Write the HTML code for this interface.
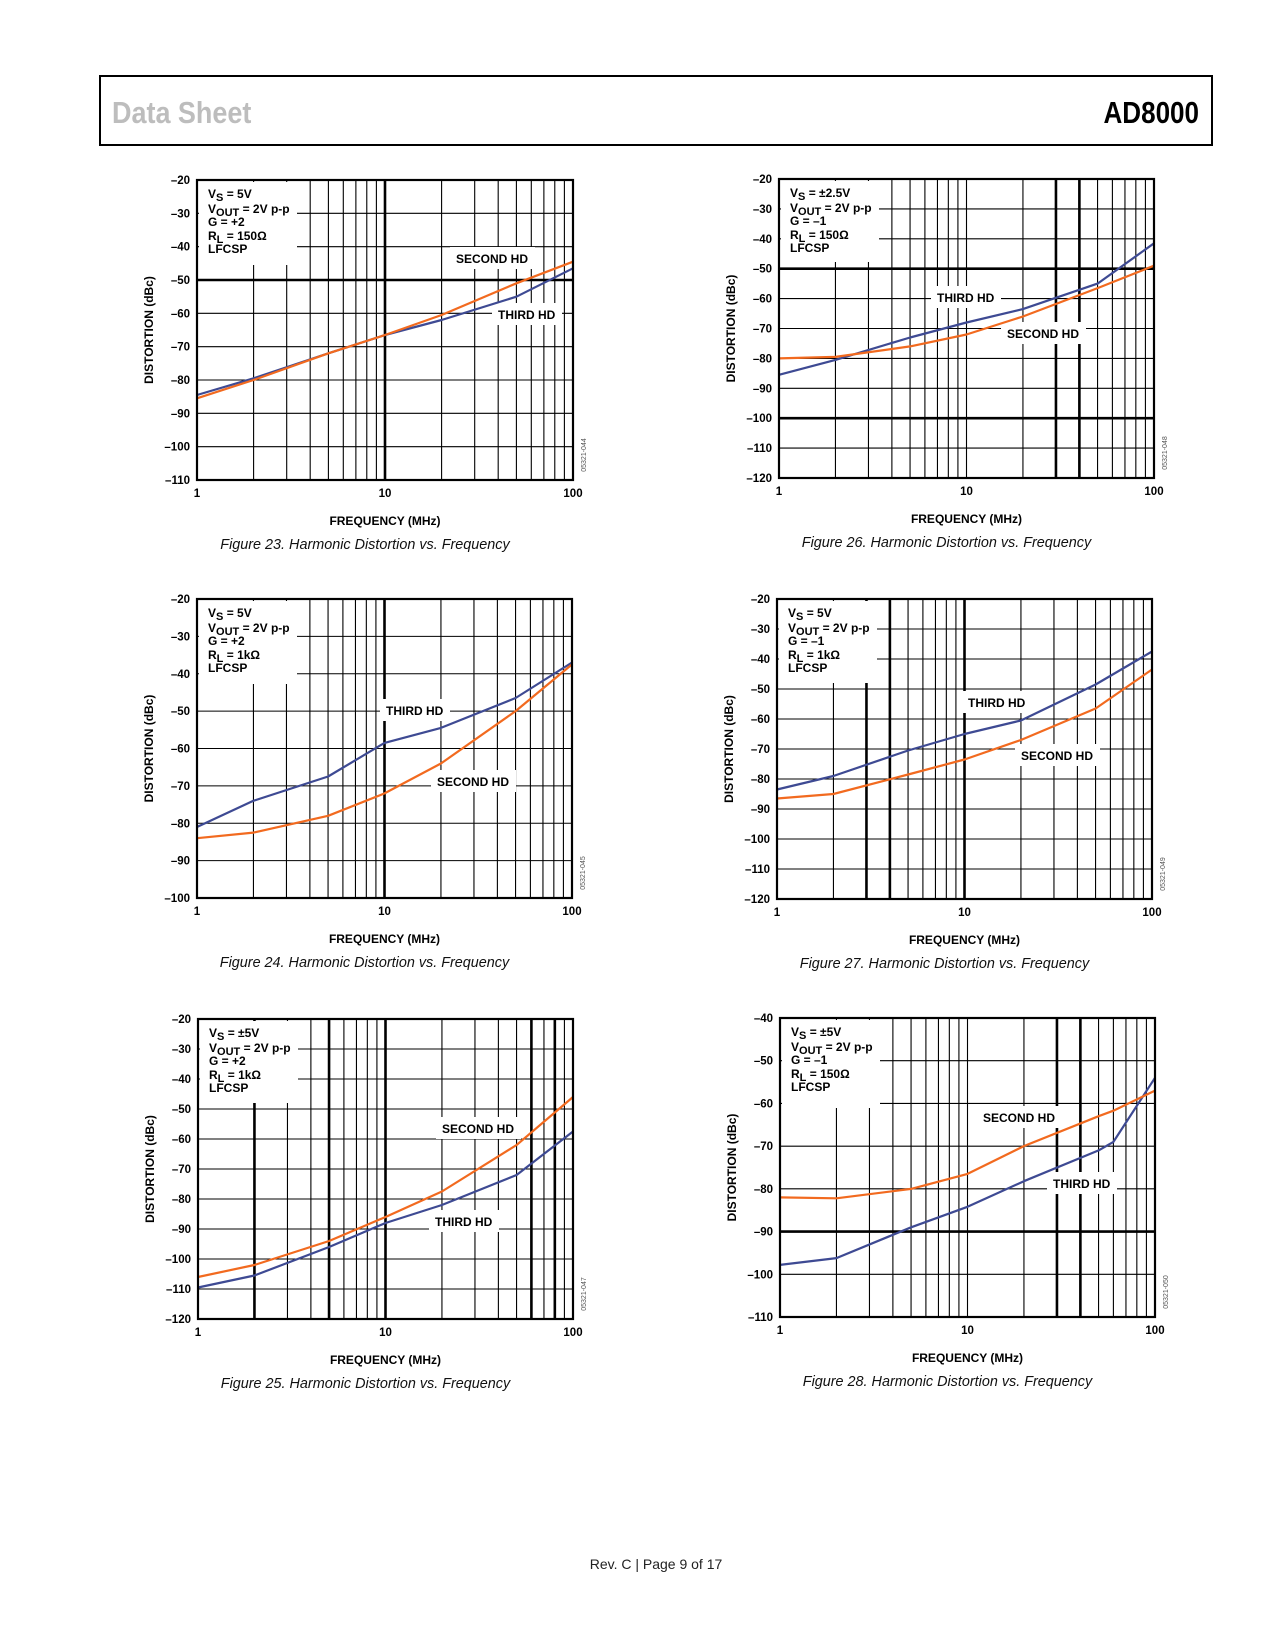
<!DOCTYPE html>
<html><head><meta charset="utf-8"><title>AD8000 Data Sheet page 9</title>
<style>
html,body{margin:0;padding:0;background:#fff;}
body{width:1275px;height:1650px;position:relative;overflow:hidden;font-family:"Liberation Sans",Arial,sans-serif;}
svg{position:absolute;left:0;top:0;}
</style></head>
<body>
<svg id="page" width="1275" height="1650" viewBox="0 0 1275 1650" xmlns="http://www.w3.org/2000/svg">
  <rect x="100" y="76" width="1112" height="69" fill="none" stroke="#000" stroke-width="2"/>
  <text x="112" y="123" font-family="Liberation Sans Narrow, Liberation Sans, sans-serif" font-weight="bold" font-size="31" fill="#bdbdbd" transform="translate(112 0) scale(0.87 1) translate(-112 0)">Data Sheet</text>
  <text x="1199" y="123" text-anchor="end" font-family="Liberation Sans Narrow, Liberation Sans, sans-serif" font-weight="bold" font-size="31" fill="#000" transform="translate(1199 0) scale(0.84 1) translate(-1199 0)">AD8000</text>
  <text x="656" y="1569" text-anchor="middle" font-size="14" fill="#222">Rev. C | Page 9 of 17</text>
  <g id="charts"></g>
</svg>
<script>
// ---- Figure 23 data ----
const f23Freq = [1, 2, 5, 10, 20, 50, 100];
const f23Second = [-85.5, -80, -72, -66.5, -60.5, -51, -44.5];
const f23Third = [-84.5, -79.5, -72, -66.5, -62, -55, -46.5];
const f23YTicks = [-20, -30, -40, -50, -60, -70, -80, -90, -100, -110];
// ---- Figure 24 data ----
const f24Freq = [1, 2, 5, 10, 20, 50, 100];
const f24Second = [-84, -82.5, -78, -72, -64, -50, -37.5];
const f24Third = [-81, -74, -67.5, -58.5, -54.5, -46.5, -37];
const f24YTicks = [-20, -30, -40, -50, -60, -70, -80, -90, -100];
// ---- Figure 25 data ----
const f25Freq = [1, 2, 5, 10, 20, 50, 100];
const f25Second = [-106, -102, -94, -86, -77.5, -62, -46];
const f25Third = [-109.5, -105.5, -96, -88, -82, -72, -57.5];
const f25YTicks = [-20, -30, -40, -50, -60, -70, -80, -90, -100, -110, -120];
// ---- Figure 26 data ----
const f26Freq = [1, 2, 5, 10, 20, 50, 100];
const f26Second = [-80, -79.5, -76, -72, -66, -56.5, -49];
const f26Third = [-85.5, -80.5, -73, -68, -63.5, -55, -41.5];
const f26YTicks = [-20, -30, -40, -50, -60, -70, -80, -90, -100, -110, -120];
// ---- Figure 27 data ----
const f27Freq = [1, 2, 5, 10, 20, 50, 100];
const f27Second = [-86.5, -85, -78.5, -73.5, -67, -56.5, -43.5];
const f27Third = [-83.5, -79, -70.5, -65, -60.5, -48.5, -37.5];
const f27YTicks = [-20, -30, -40, -50, -60, -70, -80, -90, -100, -110, -120];
// ---- Figure 28 data ----
const f28Freq = [1, 2, 5, 10, 20, 50, 60, 100];
const f28Second = [-82, -82.2, -80, -76.5, -70, -63, -61.7, -57];
const f28Third = [-97.8, -96.2, -89, -84.2, -78.2, -71, -69, -54];
const f28YTicks = [-40, -50, -60, -70, -80, -90, -100, -110];
const xTickLabels = ['1', '10', '100'];

const NS = 'http://www.w3.org/2000/svg';
const root = document.getElementById('charts');
function mk(tag, attrs, parent) {
  const e = document.createElementNS(NS, tag);
  for (const k in attrs) e.setAttribute(k, attrs[k]);
  (parent || root).appendChild(e);
  return e;
}

const charts = [
  {id:23, L:197, T:180, R:573, B:480, freq:f23Freq, second:f23Second, third:f23Third, ticks:f23YTicks,
   thickV:[10], thickH:[-50], ann:['5V','+2','150Ω'], annH:83,
   lab2:[456,263], lab3:[498,319], code:'05321-044'},
  {id:24, L:197, T:599, R:572, B:898, freq:f24Freq, second:f24Second, third:f24Third, ticks:f24YTicks,
   thickV:[10], thickH:[], ann:['5V','+2','1kΩ'], annH:83,
   lab2:[437,786], lab3:[386,715], code:'05321-045'},
  {id:25, L:198, T:1019, R:573, B:1319, freq:f25Freq, second:f25Second, third:f25Third, ticks:f25YTicks,
   thickV:[2,5,10,60,80], thickH:[], ann:['±5V','+2','1kΩ'], annH:82,
   lab2:[442,1133], lab3:[435,1226], code:'05321-047'},
  {id:26, L:779, T:179, R:1154, B:478, freq:f26Freq, second:f26Second, third:f26Third, ticks:f26YTicks,
   thickV:[30,40], thickH:[-50,-100], ann:['±2.5V','–1','150Ω'], annH:81,
   lab2:[1007,338], lab3:[937,302], code:'05321-048'},
  {id:27, L:777, T:599, R:1152, B:899, freq:f27Freq, second:f27Second, third:f27Third, ticks:f27YTicks,
   thickV:[3,4,10], thickH:[], ann:['5V','–1','1kΩ'], annH:82,
   lab2:[1021,760], lab3:[968,707], code:'05321-049'},
  {id:28, L:780, T:1018, R:1155, B:1317, freq:f28Freq, second:f28Second, third:f28Third, ticks:f28YTicks,
   thickV:[30,40], thickH:[-90], ann:['±5V','–1','150Ω'], annH:88,
   lab2:[983,1122], lab3:[1053,1188], code:'05321-050'}
];

charts.forEach(c => {
  const g = mk('g', {});
  
  
  const yMax = c.ticks[0], yMin = c.ticks[c.ticks.length - 1];
  const xs = f => c.L + (Math.log10(f) / 2) * (c.R - c.L);
  const ys = v => c.T + (yMax - v) / (yMax - yMin) * (c.B - c.T);

  for (let d = 0; d < 2; d++) {
    for (let m = 1; m <= 9; m++) {
      const f = m * Math.pow(10, d);
      if (f === 1) continue;
      const thick = c.thickV.includes(f);
      const ln = mk('line', {x1:xs(f), x2:xs(f), y1:c.T, y2:c.B, stroke:'#000', 'stroke-width': thick ? 2.6 : 1.1}, g);
      
      
    }
  }
  c.ticks.forEach(t => {
    const thick = c.thickH.includes(t);
    const ln = mk('line', {x1:c.L, x2:c.R, y1:ys(t), y2:ys(t), stroke:'#000', 'stroke-width': thick ? 2.6 : 1.1}, g);
    
    
    const tx = mk('text', {x:c.L - 7, y:ys(t) + 4, 'text-anchor':'end', 'font-size':11.5, 'font-weight':'bold'}, g);
    tx.textContent = '–' + Math.abs(t);
    
    
  });
  xTickLabels.forEach((lab, i) => {
    const tx = mk('text', {x:xs(Math.pow(10, i)), y:c.B + 17, 'text-anchor':'middle', 'font-size':11.5, 'font-weight':'bold'}, g);
    tx.textContent = lab;
    
    
  });
  const ab = mk('rect', {x:c.L + 2, y:c.T + 2, width:98, height:c.annH, fill:'#fff'}, g);
  
  
  const ax = c.L + 11, ay = c.T;
  const lines = [
    ['V', 'S', ' = ' + c.ann[0], 18],
    ['V', 'OUT', ' = 2V p-p', 33],
    ['G = ' + c.ann[1], '', '', 46],
    ['R', 'L', ' = ' + c.ann[2], 60],
    ['LFCSP', '', '', 73]
  ];
  lines.forEach(l => {
    const tx = mk('text', {x:ax, y:ay + l[3], 'font-size':12, 'font-weight':'bold'}, g);
    
    
    const s1 = mk('tspan', {}, tx); s1.textContent = l[0];
    if (l[1]) {
      const s2 = mk('tspan', {dy:3, 'font-size':11}, tx); s2.textContent = l[1];
      const s3 = mk('tspan', {dy:-3}, tx); s3.textContent = l[2];
    }
  });
  [['SECOND HD', c.lab2, 'second-hd-label'], ['THIRD HD', c.lab3, 'third-hd-label']].forEach(s => {
    const w = s[0] === 'SECOND HD' ? 73 : 58;
    const r = mk('rect', {x:s[1][0] - 6, y:s[1][1] - 16, width:w + 12, height:22, fill:'#fff'}, g);
    
    
    const tx = mk('text', {x:s[1][0], y:s[1][1], 'font-size':12, 'font-weight':'bold'}, g);
    tx.textContent = s[0];
    
    
  });
  const pts = arr => c.freq.map((f, i) => xs(f).toFixed(1) + ',' + ys(arr[i]).toFixed(1)).join(' ');
  const p3 = mk('polyline', {points:pts(c.third), fill:'none', stroke:'#3e4a93', 'stroke-width':2.2, 'stroke-linejoin':'round'}, g);
  
  
  const p2 = mk('polyline', {points:pts(c.second), fill:'none', stroke:'#f26a1f', 'stroke-width':2.2, 'stroke-linejoin':'round'}, g);
  
  
  const bd = mk('rect', {x:c.L, y:c.T, width:c.R - c.L, height:c.B - c.T, fill:'none', stroke:'#000', 'stroke-width':2.2}, g);
  
  
  const xt = mk('text', {x:(c.L + c.R) / 2, y:c.B + 45, 'text-anchor':'middle', 'font-size':12, 'font-weight':'bold'}, g);
  xt.textContent = 'FREQUENCY (MHz)';
  
  
  const yc = (c.T + c.B) / 2, yx = c.L - 44;
  const yt = mk('text', {x:yx, y:yc, 'text-anchor':'middle', 'font-size':12, 'font-weight':'bold', transform:'rotate(-90 ' + yx + ' ' + yc + ')'}, g);
  yt.textContent = 'DISTORTION (dBc)';
  
  
  const cx = c.R + 13, cy = c.B - 25;
  const ct = mk('text', {x:cx, y:cy, 'text-anchor':'middle', 'font-size':7, fill:'#555', transform:'rotate(-90 ' + cx + ' ' + cy + ')'}, g);
  ct.textContent = c.code;
  
  
  const capX = (c.L + c.R) / 2 - 20;
  const cap = mk('text', {x:capX, y:c.B + 69, 'text-anchor':'middle', 'font-size':15, 'font-style':'italic', fill:'#111', transform:'translate(' + capX + ' 0) scale(0.96 1) translate(' + (-capX) + ' 0)'}, g);
  cap.textContent = 'Figure ' + c.id + '. Harmonic Distortion vs. Frequency';
  
  
});
</script>
</body></html>
